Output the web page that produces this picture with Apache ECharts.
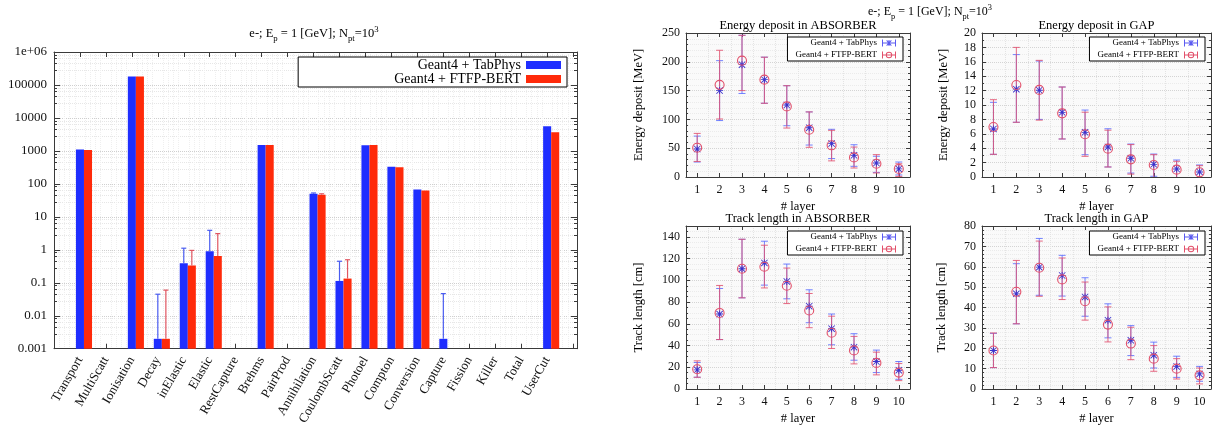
<!DOCTYPE html>
<html><head><meta charset="utf-8">
<script src="https://cdn.jsdelivr.net/npm/echarts@6/dist/echarts.min.js"></script>
<style>html,body{margin:0;padding:0;background:#fff}#c{width:1215px;height:428px}</style>
</head><body><div id="c"></div>
<script>
// ---------- data: process counts (left chart) ----------
const processes = ['Transport','MultiScatt','Ionisation','Decay','inElastic','Elastic','RestCapture','Brehms','PairProd','Annihilation','CoulombScatt','Photoel','Compton','Conversion','Capture','Fission','Killer','Total','UserCut'];
const tabPhysCounts = [1100, null, 180000, 0.002, 0.39, 0.9, null, 1500, null, 50, 0.114, 1480, 333, 67, 0.002, null, null, null, 5600];
const ftfpCounts    = [1060, null, 180000, 0.002, 0.335, 0.65, null, 1500, null, 47, 0.134, 1500, 320, 63, null, null, null, null, 3700];
const tabPhysErrUp  = [null, null, null, 0.045, 1.12, 3.9, null, null, null, 53, 0.45, null, null, null, 0.047, null, null, null, null];
const ftfpErrUp     = [null, null, null, 0.06, 0.96, 3.1, null, null, null, 50, 0.5, null, null, null, null, null, null, null, null];
const logTicks = ['0.001','0.01','0.1','1','10','100','1000','10000','100000','1e+06'];

// ---------- data: per-layer panels ----------
const layers = ['1','2','3','4','5','6','7','8','9','10'];
// Energy deposit in ABSORBER [MeV]
const tabAbsEdep   = [48.6, 150, 195, 169, 125, 85.6, 58, 37.6, 24.3, 14];
const tabAbsEdepLo = [26, 98, 145, 128, 89, 55.5, 32, 18.5, 8, 3.5];
const tabAbsEdepHi = [71, 202, 246, 208, 158.5, 113, 82.8, 56, 36, 26];
const ftfpAbsEdep   = [50.9, 160, 202, 169, 122.6, 82, 55, 34, 23, 14];
const ftfpAbsEdepLo = [27, 100.7, 150, 128, 85, 51.5, 28, 15.6, 7, 1];
const ftfpAbsEdepHi = [75.7, 220, 246, 208, 158.5, 113, 81, 52, 38.8, 23];
// Energy deposit in GAP [MeV]
const tabGapEdep   = [6.67, 12.2, 12.05, 8.98, 6.2, 4.17, 2.6, 1.76, 1.11, 0.7];
const tabGapEdepLo = [3.15, 7.6, 8.0, 5.28, 3.1, 1.39, 0.55, 0.1, -0.1, -0.2];
const tabGapEdepHi = [10.37, 17.0, 16.1, 12.5, 9.3, 6.7, 4.58, 3.19, 2.36, 1.67];
const ftfpGapEdep   = [6.94, 12.78, 12.1, 8.84, 5.93, 3.94, 2.45, 1.67, 1.02, 0.65];
const ftfpGapEdepLo = [3.15, 7.6, 7.9, 5.28, 2.87, 1.39, 0.4, -0.1, -0.1, -0.2];
const ftfpGapEdepHi = [10.74, 18.0, 16.2, 12.5, 9.0, 6.5, 4.5, 3.1, 2.18, 1.57];
// Track length in ABSORBER [cm]
const tabAbsTrack   = [17.6, 69, 110.7, 116, 99, 76.2, 55.5, 38.5, 25.3, 17.3];
const tabAbsTrackLo = [10.8, 45.5, 83.9, 95.6, 83, 61, 40.7, 26.5, 15.1, 8.9];
const tabAbsTrackHi = [24.4, 92.5, 137.8, 136, 115, 91.3, 69, 50.9, 35.8, 25.3];
const ftfpAbsTrack   = [18.2, 70, 110.7, 112.5, 95, 72.2, 51.8, 35.5, 24, 15.1];
const ftfpAbsTrackLo = [10.8, 45.5, 83.9, 93, 78.6, 56.4, 37.3, 23.1, 13, 7.7];
const ftfpAbsTrackHi = [25.9, 95.3, 137.8, 132.3, 111.3, 87.9, 67, 48.4, 33.9, 23.4];
// Track length in GAP [cm]
const tabGapTrack   = [18.9, 46.7, 59.8, 55.7, 45.2, 33.8, 23.9, 16.6, 11.1, 7.4];
const tabGapTrackLo = [10.5, 32, 46, 45.6, 35.7, 25.1, 16.4, 10.3, 5.7, 3.8];
const tabGapTrackHi = [27.3, 61.5, 73.9, 65.6, 54.6, 41.8, 31.1, 23, 16.1, 11.1];
const ftfpGapTrack   = [18.9, 47.7, 59.5, 53.8, 43.1, 31.6, 22.3, 14.9, 10, 6.7];
const ftfpGapTrackLo = [10.5, 32, 45.5, 43.9, 33.8, 23.1, 14.4, 8.7, 4.9, 2.5];
const ftfpGapTrackHi = [27.5, 63.1, 72.6, 64.3, 52.5, 40.3, 30.3, 21.3, 14.9, 10.3];

// ---------- styling ----------
const SERIF = 'Liberation Serif';
const BLUE = '#1f2eff', RED = '#ff2a0a';
const BLUE_ERR = 'rgba(80,100,255,0.8)', RED_ERR = 'rgba(225,80,110,0.85)';
const BLUE_PT = '#3a32cc', RED_PT = '#e2506a';
const TAB = 'Geant4 + TabPhys', FTFP = 'Geant4 + FTFP-BERT';
const FRAME = '#3a3a3a';
const ASTER = 'path://M3.5,0h1v8h-1zM0,3.5h8v1h-8zM0.7,0L8,7.3L7.3,8L0,0.7zM7.3,0L8,0.7L0.7,8L0,7.3z';
const ICON_BLUE = 'path://M0,3h14v1h-14zM0,0h1v7h-1zM13,0h1v7h-1zM6.5,0.5h1v6h-1zM4.3,1.2L5,0.5L9.7,5.8L9,6.5zM9,0.5L9.7,1.2L5,6.5L4.3,5.8z';
const ICON_RED = 'path://M0,3h14v1h-14zM0,0h1v7h-1zM13,0h1v7h-1zM3.8,3.5A3.2,3.2 0 1,1 10.2,3.5A3.2,3.2 0 1,1 3.8,3.5ZM4.7,3.5A2.3,2.3 0 1,0 9.3,3.5A2.3,2.3 0 1,0 4.7,3.5Z';

const BAR_HALF = 0.155, RED_OFFSET = 0.31, LOG_MIN = 0.001;

const grids = [
  {left: 54, top: 52, width: 523, height: 314, show: true, backgroundColor: '#fff', borderWidth: 0},
  {left: 686, top: 33, width: 224, height: 144, show: true, backgroundColor: '#fafafa', borderWidth: 0},
  {left: 982, top: 33, width: 229, height: 144, show: true, backgroundColor: '#fafafa', borderWidth: 0},
  {left: 686, top: 226, width: 224, height: 163, show: true, backgroundColor: '#fafafa', borderWidth: 0},
  {left: 982, top: 226, width: 229, height: 163, show: true, backgroundColor: '#fafafa', borderWidth: 0}
];

// ---------- axes ----------
const xAxes = [], yAxes = [];
function leftX(top) {
  return {type: 'value', gridIndex: 0, position: top ? 'top' : 'bottom', min: -1, max: 19.15, interval: 1,
    axisLine: {show: true, onZero: false, lineStyle: {color: FRAME, width: 1}},
    axisTick: {show: true, inside: true, length: 5, lineStyle: {color: FRAME}},
    minorTick: {show: false},
    axisLabel: {show: !top, rotate: 60, margin: 9, fontFamily: SERIF, fontSize: 13, color: '#111',
      formatter: v => { const i = Math.round(v); return (Math.abs(v - i) < 1e-6 && processes[i]) ? processes[i] : ''; }},
    splitLine: {show: false},
    minorSplitLine: {show: !top, lineStyle: {type: 'dotted', color: '#efefef'}}};
}
function leftY(right) {
  return {type: 'log', logBase: 10, gridIndex: 0, position: right ? 'right' : 'left', min: LOG_MIN, max: 1e6,
    axisLine: {show: true, onZero: false, lineStyle: {color: FRAME, width: 1}},
    axisTick: {show: true, inside: true, length: 6, lineStyle: {color: FRAME}},
    minorTick: {show: true, splitNumber: 5, length: 3, lineStyle: {color: FRAME}},
    axisLabel: {show: !right, margin: 7, fontFamily: SERIF, fontSize: 13, color: '#111',
      formatter: v => { const e = Math.round(Math.log10(v)); return logTicks[e + 3] || ''; }},
    splitLine: {show: !right, lineStyle: {type: 'dotted', color: '#cfcfcf'}},
    minorSplitLine: {show: !right, lineStyle: {type: 'dotted', color: '#e6e6e6'}}};
}
xAxes.push(leftX(false), leftX(true));
yAxes.push(leftY(false), leftY(true));

function panelX(k, top, title) {
  return {type: 'category', gridIndex: k, position: top ? 'top' : 'bottom', data: layers, boundaryGap: true,
    name: top ? title : '# layer', nameLocation: 'middle', nameGap: top ? 1 : 23,
    nameTextStyle: {fontFamily: SERIF, fontSize: 12.5, color: '#000'},
    axisLine: {show: true, onZero: false, lineStyle: {color: FRAME, width: 1}},
    axisTick: {show: true, inside: true, alignWithLabel: true, length: 4, lineStyle: {color: FRAME}},
    axisLabel: {show: !top, interval: 0, margin: 7, fontFamily: SERIF, fontSize: 12, color: '#111'},
    splitLine: {show: !top, lineStyle: {type: 'dotted', color: '#e3e3e3'}}};
}
function panelY(k, right, o) {
  return {type: 'value', gridIndex: k, position: right ? 'right' : 'left', min: 0, max: o.max, interval: o.interval,
    name: right ? '' : o.name, nameLocation: 'middle', nameGap: o.nameGap,
    nameTextStyle: {fontFamily: SERIF, fontSize: 12.5, color: '#000'},
    axisLine: {show: true, onZero: false, lineStyle: {color: FRAME, width: 1}},
    axisTick: {show: true, inside: true, length: 4, lineStyle: {color: FRAME}},
    minorTick: {show: true, splitNumber: o.minor, length: 2, lineStyle: {color: FRAME}},
    axisLabel: {show: !right, showMaxLabel: o.showMax, margin: 6, fontFamily: SERIF, fontSize: 12, color: '#111'},
    splitLine: {show: !right, lineStyle: {type: 'dotted', color: '#d4d4d4'}},
    minorSplitLine: {show: !right, lineStyle: {type: 'dotted', color: '#ebebeb'}}};
}
const panels = [
  {title: 'Energy deposit in ABSORBER', name: 'Energy deposit [MeV]', max: 250, interval: 50, minor: 5, nameGap: 41, showMax: true,
   tab: [tabAbsEdep, tabAbsEdepLo, tabAbsEdepHi], ftfp: [ftfpAbsEdep, ftfpAbsEdepLo, ftfpAbsEdepHi], legendRight: 312, legendTop: 37},
  {title: 'Energy deposit in GAP', name: 'Energy deposit [MeV]', max: 20, interval: 2, minor: 2, nameGap: 32, showMax: true,
   tab: [tabGapEdep, tabGapEdepLo, tabGapEdepHi], ftfp: [ftfpGapEdep, ftfpGapEdepLo, ftfpGapEdepHi], legendRight: 10, legendTop: 37},
  {title: 'Track length in ABSORBER', name: 'Track length [cm]', max: 150, interval: 20, minor: 4, nameGap: 41, showMax: false,
   tab: [tabAbsTrack, tabAbsTrackLo, tabAbsTrackHi], ftfp: [ftfpAbsTrack, ftfpAbsTrackLo, ftfpAbsTrackHi], legendRight: 312, legendTop: 231},
  {title: 'Track length in GAP', name: 'Track length [cm]', max: 80, interval: 10, minor: 5, nameGap: 34, showMax: true,
   tab: [tabGapTrack, tabGapTrackLo, tabGapTrackHi], ftfp: [ftfpGapTrack, ftfpGapTrackLo, ftfpGapTrackHi], legendRight: 10, legendTop: 231}
];
panels.forEach((p, j) => {
  const k = j + 1;
  xAxes.push(panelX(k, false, p.title), panelX(k, true, p.title));
  yAxes.push(panelY(k, false, p), panelY(k, true, p));
});

// ---------- series ----------
function barRender(offset) {
  return (params, api) => {
    const i = api.value(0), v = api.value(1);
    const a = api.coord([i + offset - BAR_HALF, v]);
    const b = api.coord([i + offset + BAR_HALF, LOG_MIN]);
    return {type: 'rect', shape: {x: a[0], y: a[1], width: b[0] - a[0], height: b[1] - a[1]},
      style: {fill: api.visual('color')}};
  };
}
function leftErrRender(offset) {
  return (params, api) => {
    const i = api.value(0);
    const t = api.coord([i + offset, api.value(1)]);
    const h = api.coord([i + offset, api.value(2)]);
    const st = {stroke: api.visual('color'), lineWidth: 1.2, fill: null};
    return {type: 'group', children: [
      {type: 'line', shape: {x1: t[0], y1: t[1], x2: h[0], y2: h[1]}, style: st},
      {type: 'line', shape: {x1: h[0] - 2.5, y1: h[1], x2: h[0] + 2.5, y2: h[1]}, style: st}]};
  };
}
function errRender(params, api) {
  const x = api.value(0);
  const lo = api.coord([x, api.value(1)]);
  const hi = api.coord([x, api.value(2)]);
  const st = {stroke: api.visual('color'), lineWidth: 1, fill: null};
  const w = 3.5;
  return {type: 'group', children: [
    {type: 'line', shape: {x1: lo[0], y1: lo[1], x2: hi[0], y2: hi[1]}, style: st},
    {type: 'line', shape: {x1: lo[0] - w, y1: lo[1], x2: lo[0] + w, y2: lo[1]}, style: st},
    {type: 'line', shape: {x1: hi[0] - w, y1: hi[1], x2: hi[0] + w, y2: hi[1]}, style: st}]};
}

const series = [];
function pairs(vals) { return vals.map((v, i) => v == null ? null : [i, v]).filter(Boolean); }
function errTriples(vals, ups) { return vals.map((v, i) => (v == null || ups[i] == null) ? null : [i, v, ups[i]]).filter(Boolean); }

series.push(
  {type: 'custom', name: TAB, xAxisIndex: 0, yAxisIndex: 0, itemStyle: {color: BLUE}, z: 3,
   encode: {x: 0, y: 1}, data: pairs(tabPhysCounts), renderItem: barRender(0)},
  {type: 'custom', name: FTFP, xAxisIndex: 0, yAxisIndex: 0, itemStyle: {color: RED}, z: 3,
   encode: {x: 0, y: 1}, data: pairs(ftfpCounts), renderItem: barRender(RED_OFFSET)},
  {type: 'custom', name: 'tab-err', xAxisIndex: 0, yAxisIndex: 0, itemStyle: {color: '#4a5cf0'}, z: 4,
   encode: {x: 0, y: [1, 2]}, data: errTriples(tabPhysCounts, tabPhysErrUp), renderItem: leftErrRender(0)},
  {type: 'custom', name: 'ftfp-err', xAxisIndex: 0, yAxisIndex: 0, itemStyle: {color: '#e05560'}, z: 4,
   encode: {x: 0, y: [1, 2]}, data: errTriples(ftfpCounts, ftfpErrUp), renderItem: leftErrRender(RED_OFFSET)}
);

panels.forEach((p, j) => {
  const ax = 2 * (j + 1);
  const tri = arr => arr[0].map((v, i) => [i, arr[1][i], arr[2][i]]);
  series.push(
    {type: 'custom', name: 'tab-err-' + j, xAxisIndex: ax, yAxisIndex: ax, clip: true, itemStyle: {color: BLUE_ERR},
     encode: {x: 0, y: [1, 2]}, data: tri(p.tab), renderItem: errRender, z: 2},
    {type: 'custom', name: 'ftfp-err-' + j, xAxisIndex: ax, yAxisIndex: ax, clip: true, itemStyle: {color: RED_ERR},
     encode: {x: 0, y: [1, 2]}, data: tri(p.ftfp), renderItem: errRender, z: 3},
    {type: 'scatter', name: TAB, xAxisIndex: ax, yAxisIndex: ax, symbol: ASTER, symbolSize: 7,
     itemStyle: {color: BLUE_PT, opacity: 1}, data: pairs(p.tab[0]), z: 4},
    {type: 'scatter', name: FTFP, xAxisIndex: ax, yAxisIndex: ax, symbol: 'circle', symbolSize: 9,
     itemStyle: {color: 'rgba(0,0,0,0)', borderColor: RED_PT, borderWidth: 1.1, opacity: 1}, data: pairs(p.ftfp[0]), z: 5}
  );
});

// ---------- legends ----------
const legends = [{
  orient: 'vertical', align: 'right', right: 648, top: 57, itemWidth: 35, itemHeight: 8, itemGap: 0,
  padding: [1, 6, 1, 96], borderColor: '#000', borderWidth: 1, backgroundColor: '#fff', selectedMode: false,
  textStyle: {fontFamily: SERIF, fontSize: 14, lineHeight: 13.5, color: '#000'},
  data: [{name: TAB, icon: 'rect', itemStyle: {color: BLUE, borderWidth: 0}},
         {name: FTFP, icon: 'rect', itemStyle: {color: RED, borderWidth: 0}}]
}];
panels.forEach(p => legends.push({
  orient: 'vertical', align: 'right', right: p.legendRight, top: p.legendTop, itemWidth: 14, itemHeight: 7, itemGap: 0,
  padding: [0, 7, 0, 8], borderColor: '#000', borderWidth: 1, backgroundColor: '#fff', selectedMode: false,
  textStyle: {fontFamily: SERIF, fontSize: 9, lineHeight: 12, color: '#000'},
  data: [{name: TAB, icon: ICON_BLUE, itemStyle: {color: '#5a5af0', borderWidth: 0}},
         {name: FTFP, icon: ICON_RED, itemStyle: {color: RED_PT, borderWidth: 0}}]
}));

// ---------- titles ----------
const TITLE_TEXT = '{n|e-; E}{s|p}{n| = 1 [GeV]; N}{s|pt}{n|=10}{u|3}';
function titleRich(fs) {
  return {
    n: {fontFamily: SERIF, fontSize: fs, lineHeight: fs + 5, color: '#000'},
    s: {fontFamily: SERIF, fontSize: fs * 0.7, lineHeight: fs * 0.7 + 1, verticalAlign: 'bottom', color: '#000'},
    u: {fontFamily: SERIF, fontSize: fs * 0.7, lineHeight: fs * 0.7 + 1, verticalAlign: 'top', color: '#000'}
  };
}

const chart = echarts.init(document.getElementById('c'), null, {renderer: 'canvas'});
chart.setOption({
  backgroundColor: '#fff',
  animation: false,
  grid: grids,
  xAxis: xAxes,
  yAxis: yAxes,
  legend: legends,
  series: series,
  graphic: [
    {type: 'text', x: 314, y: 34, style: {text: TITLE_TEXT, align: 'center', verticalAlign: 'middle', rich: titleRich(12.5)}},
    {type: 'text', x: 930, y: 12, style: {text: TITLE_TEXT, align: 'center', verticalAlign: 'middle', rich: titleRich(12)}}
  ]
});
</script></body></html>
